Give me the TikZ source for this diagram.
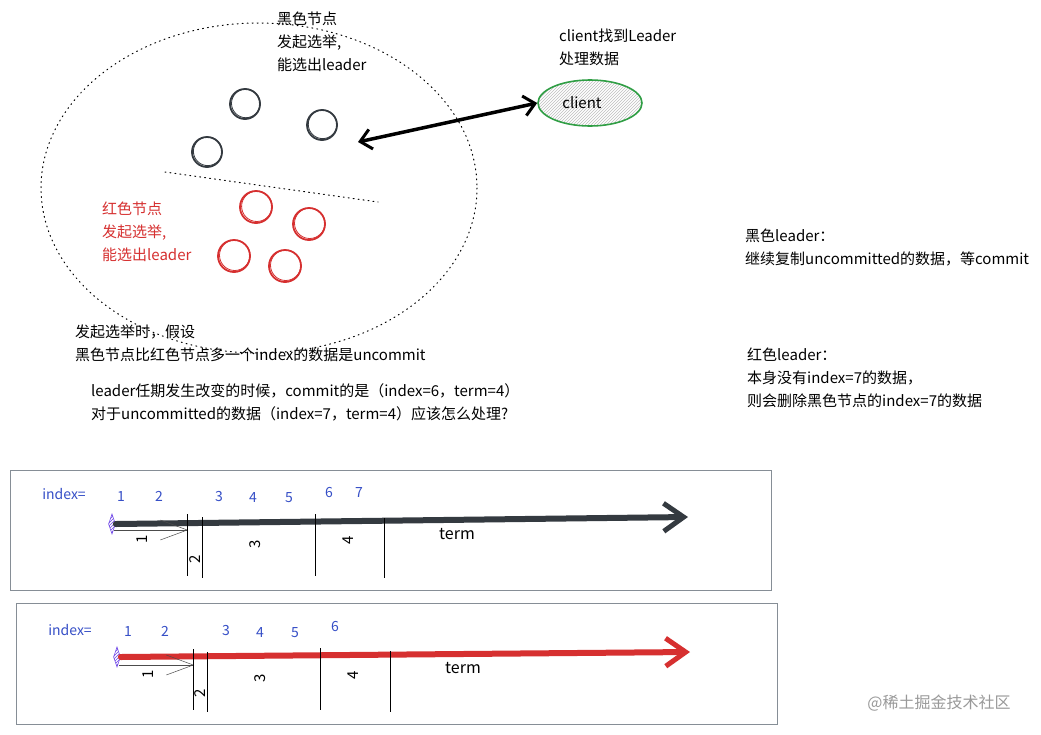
\documentclass[tikz,border=0pt]{standalone}
\usepackage{fontspec}
\setmainfont{Noto Sans CJK SC}
\usetikzlibrary{arrows.meta,shapes.geometric,patterns}
\definecolor{inkblack}{HTML}{343A40}
\definecolor{inkred}{HTML}{D63030}
\definecolor{inkblue}{HTML}{364FC7}
\definecolor{inkgreen}{HTML}{2F9E44}
\definecolor{inkpurple}{HTML}{7048E8}
\definecolor{boxgray}{HTML}{868E96}
\tikzset{
  txt/.style={anchor=north west, inner sep=0pt, align=left, font=\fontsize{15}{23}\selectfont},
  blacknode/.style={circle, draw=inkblack, line width=1.8pt, minimum size=30pt, inner sep=0pt},
  rednode/.style={circle, draw=inkred, line width=1.8pt, minimum size=32pt, inner sep=0pt},
  dotline/.style={line width=1pt, dash pattern=on 1pt off 4pt, line cap=round},
  tlbox/.style={draw=boxgray, line width=0.9pt},
  divider/.style={draw=black, line width=0.6pt},
  idx/.style={text=inkblue, inner sep=0pt, font=\fontsize{14}{14}\selectfont},
  termnum/.style={inner sep=0pt, rotate=90, font=\fontsize{15}{15}\selectfont},
  startmark/.style={diamond, draw=inkpurple, line width=0.6pt, minimum width=7pt, minimum height=20pt, inner sep=0pt, pattern=north east lines, pattern color=inkpurple},
  thinarrow/.style={draw=black!70, line width=0.5pt, -{Straight Barb[length=27pt,width=20pt,line width=0.5pt]}},
  timeline/.style={line width=6pt, line cap=round, -{Straight Barb[length=20pt,width=28pt,line width=5pt]}}
}
\begin{document}
\begin{tikzpicture}[x=1pt,y=-1pt]
\useasboundingbox (0,0) rectangle (1041,734);
\fill[white] (0,0) rectangle (1041,734);

% dotted ellipse and divider
\draw[dotline] (259,188) ellipse [x radius=218, y radius=165];
\coordinate (divA) at (165,172);
\coordinate (divB) at (378,202);
\draw[dotline] (divA) -- (divB);

% black nodes
\node[blacknode] (b1) at (245,104) {};
\node[blacknode] (b2) at (322,125) {};
\node[blacknode] (b3) at (207,152) {};
\draw[inkblack, line width=0.8pt] (245.8,103.4) circle [radius=14.3];
\draw[inkblack, line width=0.8pt] (322.6,124.3) circle [radius=14.3];
\draw[inkblack, line width=0.8pt] (207.7,151.3) circle [radius=14.3];

% red nodes
\node[rednode] (r1) at (256,207) {};
\node[rednode] (r2) at (309,224) {};
\node[rednode] (r3) at (234,256) {};
\node[rednode] (r4) at (285,266) {};
\draw[inkred, line width=0.8pt] (256.8,206.3) circle [radius=15.2];
\draw[inkred, line width=0.8pt] (309.7,223.3) circle [radius=15.2];
\draw[inkred, line width=0.8pt] (234.7,255.3) circle [radius=15.2];
\draw[inkred, line width=0.8pt] (285.7,265.3) circle [radius=15.2];

% texts
\node[txt] (tblack) at (277,12) {黑色节点\\发起选举,\\能选出leader};
\node[txt, text=inkred] (tred) at (102,202) {红色节点\\发起选举,\\能选出leader};
\node[txt] (tclient) at (559,29) {client找到Leader\\处理数据};
\node[txt] (tassume) at (75,325) {发起选举时，假设\\黑色节点比红色节点多一个index的数据是uncommit};
\node[txt] (tquestion) at (91,383) {leader任期发生改变的时候，commit的是（index=6，term=4）\\对于uncommitted的数据（index=7，term=4）应该怎么处理?};
\node[txt] (tbl) at (745,229) {黑色leader：\\继续复制uncommitted的数据，等commit};
\node[txt] (trl) at (747,348) {红色leader：\\本身没有index=7的数据，\\则会删除黑色节点的index=7的数据};

% client
\node[ellipse, draw=inkgreen, line width=1.6pt, minimum width=104pt, minimum height=46pt,
      pattern=north east lines, pattern color=black!25, inner sep=0pt,
      font=\fontsize{15}{15}\selectfont] (client) at (590,103) {\hspace*{-16pt}client};
\coordinate (arrL) at (358,142);
\draw[line width=3.5pt, {Straight Barb[length=11pt,width=20pt,line width=3pt]}-{Straight Barb[length=11pt,width=20pt,line width=3pt]}] (arrL) -- (client.west);

% timeline box 1 (black leader)
\node[tlbox, minimum width=761pt, minimum height=120pt, inner sep=0pt] (box1) at (390.5,530) {};
\node[idx] (ix1) at (64,494) {index=};
\node[idx] (n11) at (121,496) {1};
\node[idx] (n12) at (159,496) {2};
\node[idx] (n13) at (219,497) {3};
\node[idx] (n14) at (253,498) {4};
\node[idx] (n15) at (289,498) {5};
\node[idx] (n16) at (329,492) {6};
\node[idx] (n17) at (359,492) {7};
\node[startmark] (s1) at (112,524) {};
\coordinate (tip1) at (688,517);
\draw[timeline, inkblack] (s1.east) -- (tip1);
\coordinate (ta1) at (188,530);
\draw[thinarrow] (s1.south east |- ta1) -- (ta1);
\coordinate (v11a) at (187,514); \coordinate (v11b) at (187,576);
\coordinate (v12a) at (202,517); \coordinate (v12b) at (202,578);
\coordinate (v13a) at (315,514); \coordinate (v13b) at (315,576);
\coordinate (v14a) at (384,518); \coordinate (v14b) at (384,578);
\draw[divider] (v11a) -- (v11b);
\draw[divider] (v12a) -- (v12b);
\draw[divider] (v13a) -- (v13b);
\draw[divider] (v14a) -- (v14b);
\node[termnum] (t11) at (142,539) {1};
\node[termnum] (t12) at (195,559) {2};
\node[termnum] (t13) at (255,544) {3};
\node[termnum] (t14) at (348,540) {4};
\node[inner sep=0pt, font=\fontsize{16}{16}\selectfont] (term1) at (457,534) {term};

% timeline box 2 (red leader)
\node[tlbox, minimum width=761pt, minimum height=121pt, inner sep=0pt] (box2) at (396.5,663.5) {};
\node[idx] (ix2) at (70,630) {index=};
\node[idx] (n21) at (128,631) {1};
\node[idx] (n22) at (165,631) {2};
\node[idx] (n23) at (226,630) {3};
\node[idx] (n24) at (260,632) {4};
\node[idx] (n25) at (295,633) {5};
\node[idx] (n26) at (335,626) {6};
\node[startmark] (s2) at (117,657) {};
\coordinate (tip2) at (690,652);
\draw[timeline, inkred] (s2.east) -- (tip2);
\coordinate (ta2) at (194,665);
\draw[thinarrow] (s2.south east |- ta2) -- (ta2);
\coordinate (v21a) at (193,649); \coordinate (v21b) at (193,710);
\coordinate (v22a) at (207,652); \coordinate (v22b) at (207,712);
\coordinate (v23a) at (320,648); \coordinate (v23b) at (320,710);
\coordinate (v24a) at (390,651); \coordinate (v24b) at (390,712);
\draw[divider] (v21a) -- (v21b);
\draw[divider] (v22a) -- (v22b);
\draw[divider] (v23a) -- (v23b);
\draw[divider] (v24a) -- (v24b);
\node[termnum] (t21) at (148,674) {1};
\node[termnum] (t22) at (200,693) {2};
\node[termnum] (t23) at (260,678) {3};
\node[termnum] (t24) at (353,675) {4};
\node[inner sep=0pt, font=\fontsize{16}{16}\selectfont] (term2) at (463,668) {term};

% watermark
\node[inner sep=0pt, text=black!40, font=\fontsize{16}{16}\selectfont] (wm) at (939,703) {@稀土掘金技术社区};
\end{tikzpicture}
\end{document}
